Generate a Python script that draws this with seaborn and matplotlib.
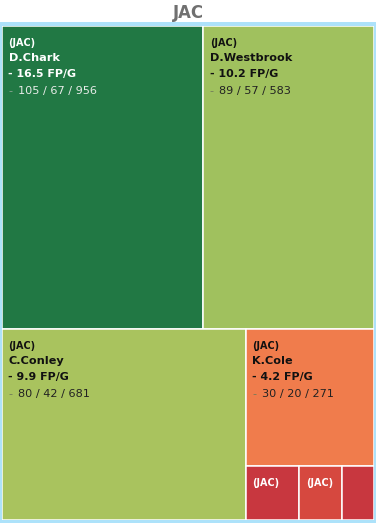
import matplotlib
matplotlib.use("Agg")
import matplotlib.pyplot as plt
from matplotlib.patches import Rectangle
import seaborn as sns

# ---- data ----
team = "JAC"
players = ["D.Chark", "D.Westbrook", "C.Conley", "K.Cole", None, None, None]
targets = [105, 89, 80, 30, 5, 4, 3]
receptions = [67, 57, 42, 20, None, None, None]
yards = [956, 583, 681, 271, None, None, None]
fp_per_game = [16.5, 10.2, 9.9, 4.2, None, None, None]

# ---- style ----
tile_colors = ["#217844", "#a0c15e", "#a9c35e", "#f07c4c", "#c8373f", "#d6483f", "#c8373f"]
dark_tiles = [True, False, False, False, True, True, True]
frame_color = "#ade2fa"

sns.set_theme(style="white")
plt.rcParams["font.family"] = ["DejaVu Sans"]

W, H, DPI = 376, 523, 100
fig = plt.figure(figsize=(W / DPI, H / DPI), dpi=DPI)

# light blue frame behind the treemap
frame = Rectangle((0, 0), 1, (H - 22) / H, transform=fig.transFigure,
                  facecolor=frame_color, edgecolor="none", zorder=-10)
fig.patches.append(frame)

x0, x1, y0, y1 = 2, 374, 26, 520
ax = fig.add_axes([x0 / W, (H - y1) / H, (x1 - x0) / W, (y1 - y0) / H], zorder=5)
ax.set_xlim(x0, x1)
ax.set_ylim(y1, y0)
ax.set_facecolor("white")
ax.axis("off")
ax.add_patch(Rectangle((x0, y0), x1 - x0, y1 - y0, facecolor="white",
                       edgecolor="none", zorder=0))


# ---- squarified treemap layout ----
def layoutrow(sizes, x, y, dx, dy):
    width = sum(sizes) / dy
    rects = []
    for s in sizes:
        rects.append((x, y, width, s / width))
        y += s / width
    return rects


def layoutcol(sizes, x, y, dx, dy):
    height = sum(sizes) / dx
    rects = []
    for s in sizes:
        rects.append((x, y, s / height, height))
        x += s / height
    return rects


def layout(sizes, x, y, dx, dy):
    return layoutrow(sizes, x, y, dx, dy) if dx >= dy else layoutcol(sizes, x, y, dx, dy)


def leftover(sizes, x, y, dx, dy):
    if dx >= dy:
        w = sum(sizes) / dy
        return x + w, y, dx - w, dy
    h = sum(sizes) / dx
    return x, y + h, dx, dy - h


def worst(sizes, x, y, dx, dy):
    return max(max(r[2] / r[3], r[3] / r[2]) for r in layout(sizes, x, y, dx, dy))


def squarify(sizes, x, y, dx, dy):
    if not sizes:
        return []
    if len(sizes) == 1:
        return layout(sizes, x, y, dx, dy)
    i = 1
    while i < len(sizes) and worst(sizes[:i], x, y, dx, dy) >= worst(sizes[:i + 1], x, y, dx, dy):
        i += 1
    cur, rest = sizes[:i], sizes[i:]
    return layout(cur, x, y, dx, dy) + squarify(rest, *leftover(cur, x, y, dx, dy))


total = sum(targets)
area = (x1 - x0) * (y1 - y0)
norm = [t * area / total for t in targets]
rects = squarify(norm, x0, y0, x1 - x0, y1 - y0)

for i, (rx, ry, rw, rh) in enumerate(rects):
    ax.add_patch(Rectangle((rx, ry), rw, rh, facecolor=tile_colors[i],
                           edgecolor="white", linewidth=1.1, zorder=1))
    main = "white" if dark_tiles[i] else "#111111"
    num = "#e8ece9" if dark_tiles[i] else "#222222"
    dash = "#8fa596" if dark_tiles[i] else "#6f7a5a"
    tx = rx + 6.5
    if rw > 36:
        ax.text(tx, ry + 20, f"({team})", color=main, fontsize=6.9,
                fontweight="bold", va="baseline", ha="left", zorder=3)
    if players[i] is not None:
        ax.text(tx, ry + 35, players[i], color=main, fontsize=8.1,
                fontweight="bold", va="baseline", ha="left", zorder=3)
        ax.text(tx, ry + 51, f"- {fp_per_game[i]} FP/G", color=main, fontsize=7.9,
                fontweight="bold", va="baseline", ha="left", zorder=3)
        ax.text(tx, ry + 68, "-", color=dash, fontsize=8.1, va="baseline", ha="left", zorder=3)
        ax.text(rx + 16, ry + 68, f"{targets[i]} / {receptions[i]} / {yards[i]}",
                color=num, fontsize=8.1, va="baseline", ha="left", zorder=3)

fig.text(0.5, 1 - 18.3 / H, team, ha="center", va="baseline", fontsize=11.9,
         fontweight="bold", color="#707070")

fig.savefig("out.png", dpi=DPI)
